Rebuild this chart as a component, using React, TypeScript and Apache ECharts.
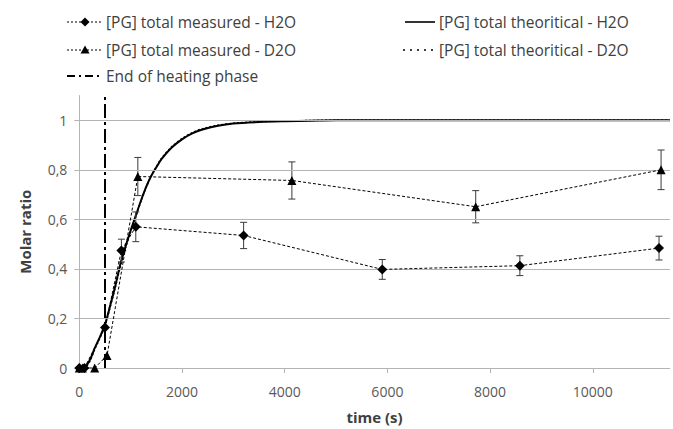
import React, { useEffect, useRef } from "react";
import * as echarts from "echarts";

// Measured propylene glycol molar ratio (time in s, ratio)
const H2O_MEASURED: [number, number][] = [
  [0, 0], [100, 0], [500, 0.163], [820, 0.474], [1100, 0.57],
  [3200, 0.535], [5900, 0.398], [8580, 0.413], [11290, 0.484],
];
const H2O_ERROR = [0, 0, 0, 0.046, 0.06, 0.053, 0.04, 0.04, 0.048];

const D2O_MEASURED: [number, number][] = [
  [0, 0], [60, 0], [300, 0], [540, 0.05], [1140, 0.773],
  [4140, 0.757], [7720, 0.651], [11330, 0.8],
];
const D2O_ERROR = [0, 0, 0, 0, 0.077, 0.075, 0.065, 0.08];

// Theoretical curves
const THEO_TIME = [
  0, 100, 200, 300, 400, 500, 600, 700, 800, 900, 1000, 1100, 1200, 1300, 1400,
  1500, 1600, 1800, 2000, 2200, 2400, 2700, 3000, 3500, 4000, 4500, 5000, 6000,
  8000, 10000, 11500,
];
const H2O_THEO = [
  0, 0.003, 0.03, 0.08, 0.125, 0.175, 0.25, 0.33, 0.42, 0.49, 0.555, 0.615,
  0.675, 0.73, 0.775, 0.81, 0.843, 0.89, 0.923, 0.947, 0.963, 0.978, 0.987,
  0.993, 0.996, 0.998, 1, 1, 1, 1, 1,
];
const D2O_THEO = [
  0, 0.002, 0.025, 0.075, 0.12, 0.17, 0.245, 0.325, 0.41, 0.485, 0.55, 0.612,
  0.672, 0.728, 0.775, 0.812, 0.846, 0.893, 0.926, 0.95, 0.966, 0.98, 0.988,
  0.994, 0.997, 0.999, 1, 1, 1, 1, 1,
];

const END_OF_HEATING = 500;

const X_TICKS = [0, 2000, 4000, 6000, 8000, 10000];
const Y_TICKS = [0, 0.2, 0.4, 0.6, 0.8, 1];

const LEGEND_LABELS = [
  "[PG] total measured - H2O",
  "[PG] total measured - D2O",
  "End of heating phase",
  "[PG] total theoritical - H2O",
  "[PG] total theoritical - D2O",
];

const FONT = "'Open Sans', 'Noto Sans', sans-serif";
const GRID_COLOR = "#b4b4b4";
const LABEL_COLOR = "#595959";

function errorBars(points: [number, number][], errs: number[]) {
  return points.map((p, i) => [p[0], p[1], errs[i]]);
}

function renderErrorBar(_params: any, api: any) {
  const x = api.value(0);
  const y = api.value(1);
  const e = api.value(2);
  if (!e) return { type: "group", children: [] };
  const top = api.coord([x, y + e]);
  const bot = api.coord([x, y - e]);
  const w = 3.5;
  const style = { stroke: "#3a3a3a", lineWidth: 1 };
  return {
    type: "group",
    children: [
      { type: "line", shape: { x1: top[0], y1: top[1], x2: bot[0], y2: bot[1] }, style },
      { type: "line", shape: { x1: top[0] - w, y1: top[1], x2: top[0] + w, y2: top[1] }, style },
      { type: "line", shape: { x1: bot[0] - w, y1: bot[1], x2: bot[0] + w, y2: bot[1] }, style },
    ],
  };
}

function legendGraphics() {
  const textStyle = (x: number, y: number, text: string) => ({
    type: "text",
    x,
    y,
    style: {
      text,
      font: `15.5px ${FONT}`,
      fill: "#404040",
      verticalAlign: "middle",
      align: "left",
    },
  });
  const rows = [22, 50, 76];
  const lx1 = 67, lx2 = 103, lmid = 85, ltext = 106;
  const rx1 = 405, rx2 = 435, rtext = 439;
  return [
    // measured H2O
    { type: "line", shape: { x1: lx1, y1: rows[0], x2: lx2, y2: rows[0] }, style: { stroke: "#000", lineWidth: 1, lineDash: [2, 2] } },
    { type: "polygon", shape: { points: [[lmid, rows[0] - 4.5], [lmid + 4.5, rows[0]], [lmid, rows[0] + 4.5], [lmid - 4.5, rows[0]]] }, style: { fill: "#000" } },
    textStyle(ltext, rows[0], LEGEND_LABELS[0]),
    // measured D2O
    { type: "line", shape: { x1: lx1, y1: rows[1], x2: lx2, y2: rows[1] }, style: { stroke: "#000", lineWidth: 1, lineDash: [2, 2] } },
    { type: "polygon", shape: { points: [[lmid, rows[1] - 4.5], [lmid + 4.5, rows[1] + 3.5], [lmid - 4.5, rows[1] + 3.5]] }, style: { fill: "#000" } },
    textStyle(ltext, rows[1], LEGEND_LABELS[1]),
    // end of heating
    { type: "line", shape: { x1: lx1, y1: rows[2], x2: lx2 - 2, y2: rows[2] }, style: { stroke: "#000", lineWidth: 2, lineDash: [8, 4, 2, 4] } },
    textStyle(ltext, rows[2], LEGEND_LABELS[2]),
    // theoretical H2O
    { type: "line", shape: { x1: rx1, y1: rows[0], x2: rx2, y2: rows[0] }, style: { stroke: "#000", lineWidth: 1.6 } },
    textStyle(rtext, rows[0], LEGEND_LABELS[3]),
    // theoretical D2O
    { type: "line", shape: { x1: rx1 - 2, y1: rows[1], x2: rx2, y2: rows[1] }, style: { stroke: "#000", lineWidth: 1.6, lineDash: [2, 5] } },
    textStyle(rtext, rows[1], LEGEND_LABELS[4]),
  ];
}

export default function App() {
  const ref = useRef<HTMLDivElement>(null);

  useEffect(() => {
    if (!ref.current) return;
    const chart = echarts.init(ref.current, null, { renderer: "svg" });

    const comma = (v: number) => String(Math.round(v * 10) / 10).replace(".", ",");

    chart.setOption({
      animation: false,
      textStyle: { fontFamily: FONT },
      grid: { left: 79.3, right: 3.2, top: 95.5, bottom: 56.3, containLabel: false },
      graphic: legendGraphics(),
      xAxis: {
        type: "value",
        min: 0,
        max: 11500,
        interval: 2000,
        name: "time (s)",
        nameLocation: "middle",
        nameGap: 41,
        nameTextStyle: { fontFamily: FONT, fontSize: 15, fontWeight: "bold", color: "#404040" },
        axisLine: { show: true, lineStyle: { color: GRID_COLOR, width: 1 } },
        axisTick: { show: true, length: 5, lineStyle: { color: GRID_COLOR }, customValues: X_TICKS },
        axisLabel: {
          fontSize: 14,
          color: LABEL_COLOR,
          margin: 16,
          customValues: X_TICKS,
          formatter: (v: number) => String(v),
          fontFamily: FONT,
        },
        splitLine: { show: false },
      },
      yAxis: {
        type: "value",
        min: 0,
        max: 1.1,
        interval: 0.2,
        name: "Molar ratio",
        nameLocation: "middle",
        nameGap: 47,
        nameRotate: 90,
        nameTextStyle: { fontFamily: FONT, fontSize: 15, fontWeight: "bold", color: "#404040" },
        axisLine: { show: true, lineStyle: { color: GRID_COLOR, width: 1 } },
        axisTick: { show: true, length: 5, lineStyle: { color: GRID_COLOR }, customValues: Y_TICKS },
        axisLabel: {
          fontSize: 14,
          color: LABEL_COLOR,
          margin: 12,
          customValues: Y_TICKS,
          formatter: (v: number) => comma(v),
          fontFamily: FONT,
        },
        splitLine: { show: false },
      },
      series: [
        {
          // horizontal gridlines
          type: "line",
          data: [],
          silent: true,
          markLine: {
            silent: true,
            symbol: "none",
            label: { show: false },
            lineStyle: { color: GRID_COLOR, width: 1, type: "solid" },
            data: Y_TICKS.filter((v) => v > 0).map((v) => ({ yAxis: v })),
          },
          z: 0,
        },
        {
          name: LEGEND_LABELS[3],
          type: "line",
          data: THEO_TIME.map((t, i) => [t, H2O_THEO[i]]),
          showSymbol: false,
          smooth: 0.3,
          lineStyle: { color: "#000", width: 2 },
          z: 3,
        },
        {
          name: LEGEND_LABELS[4],
          type: "line",
          data: THEO_TIME.map((t, i) => [t, D2O_THEO[i]]),
          showSymbol: false,
          smooth: 0.3,
          lineStyle: { color: "#000", width: 1.5, type: [2, 2] },
          z: 3,
        },
        {
          type: "custom",
          renderItem: renderErrorBar,
          data: errorBars(H2O_MEASURED, H2O_ERROR),
          z: 4,
          silent: true,
        },
        {
          type: "custom",
          renderItem: renderErrorBar,
          data: errorBars(D2O_MEASURED, D2O_ERROR),
          z: 4,
          silent: true,
        },
        {
          name: LEGEND_LABELS[0],
          type: "line",
          data: H2O_MEASURED,
          symbol: "diamond",
          symbolSize: 10,
          itemStyle: { color: "#000" },
          lineStyle: { color: "#000", width: 1, type: [3, 2] },
          z: 5,
        },
        {
          name: LEGEND_LABELS[1],
          type: "line",
          data: D2O_MEASURED,
          symbol: "triangle",
          symbolSize: 9,
          itemStyle: { color: "#000" },
          lineStyle: { color: "#000", width: 1, type: [3, 2] },
          z: 5,
        },
        {
          name: LEGEND_LABELS[2],
          type: "line",
          data: [],
          markLine: {
            silent: true,
            symbol: "none",
            label: { show: false },
            lineStyle: { color: "#000", width: 2, type: [14, 4, 3, 4] },
            data: [{ xAxis: END_OF_HEATING }],
          },
          z: 6,
        },
      ],
    });

    return () => chart.dispose();
  }, []);

  return (
    <div
      ref={ref}
      style={{ position: "fixed", left: 0, top: 0, width: 673, height: 429, background: "#fff" }}
    />
  );
}
